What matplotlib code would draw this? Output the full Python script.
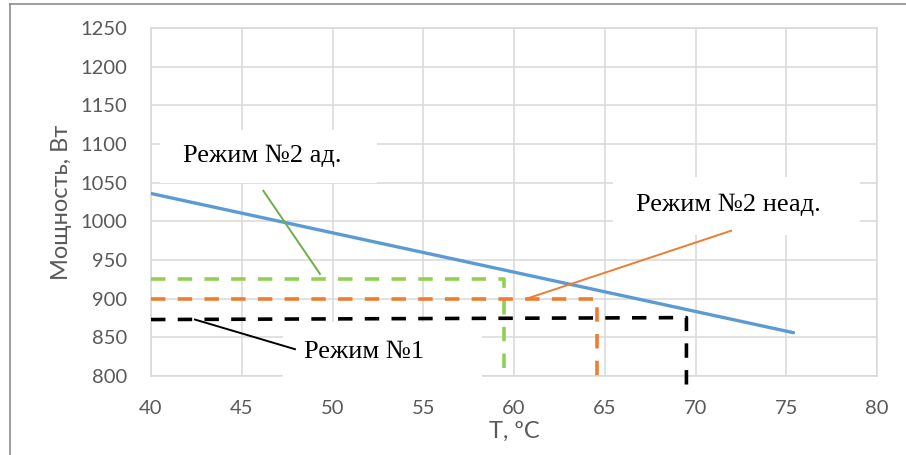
import matplotlib.pyplot as plt
from matplotlib.lines import Line2D
from matplotlib.patches import Rectangle

# мощность нагревателя от температуры
t_power = [40, 75.4]
p_power = [1036, 856]

# рабочие точки режимов (горизонталь + спуск к оси)
t_mode2_ad = [40, 59.45, 59.45]
p_mode2_ad = [925, 925, 800]
t_mode2_nead = [40, 64.55, 64.55]
p_mode2_nead = [900, 900, 789]
t_mode1 = [40, 69.5, 69.5]
p_mode1 = [873, 875.5, 786]

# выноски к подписям
lead_ad_t, lead_ad_p = [46.19, 49.31], [1039.5, 932]
lead_nead_t, lead_nead_p = [60.7, 71.96], [900, 987.8]
lead_1_t, lead_1_p = [42.42, 47.93], [873, 834.7]

xticks = list(range(40, 81, 5))
yticks = list(range(800, 1251, 50))

grid_c = "#d9d9d9"
tick_c = "#595959"

fig = plt.figure(figsize=(9.06, 4.55), dpi=100)
ax = fig.add_axes([151 / 906, 1 - 376 / 455, 726 / 906, 348 / 455])

ax.set_xlim(40, 80)
ax.set_ylim(800, 1250)
ax.set_xticks(xticks)
ax.set_yticks(yticks)
ax.grid(True, color=grid_c, linewidth=1.1)
ax.set_axisbelow(True)
for s in ax.spines.values():
    s.set_color(grid_c)
    s.set_linewidth(1.1)
ax.tick_params(length=0, pad=17, labelsize=14.5, labelcolor=tick_c)
for lab in ax.get_xticklabels() + ax.get_yticklabels():
    lab.set_fontfamily("Lato")

ax.set_xlabel("T, ºC", fontsize=17, color=tick_c, family="Lato", labelpad=3)
ax.set_ylabel("Мощность, Вт", fontsize=17, color=tick_c, family="Lato", labelpad=6)

# белые подложки под подписями
for (x0, x1, y0, y1) in [(40.5, 52.45, 1050, 1118.7),
                         (65.45, 79.06, 982.6, 1057.6),
                         (47.27, 58.24, 799, 870)]:
    ax.add_patch(Rectangle((x0, y0), x1 - x0, y1 - y0, facecolor="white",
                           edgecolor="none", zorder=2.6, clip_on=False))

ax.plot(t_power, p_power, color="#5b9bd5", linewidth=2.4, solid_capstyle="round", zorder=3)

dash = dict(linewidth=2.6, dashes=(4, 3.4), zorder=3, clip_on=False)
ax.plot(t_mode2_ad, p_mode2_ad, color="#92d050", **dash)
ax.plot(t_mode2_nead, p_mode2_nead, color="#ed7d31", **dash)
ax.plot(t_mode1, p_mode1, color="black", **dash)

ax.plot(lead_ad_t, lead_ad_p, color="#70ad47", linewidth=1.4, zorder=3)
ax.plot(lead_nead_t, lead_nead_p, color="#ed7d31", linewidth=1.4, zorder=3)
ax.plot(lead_1_t, lead_1_p, color="black", linewidth=1.4, zorder=3)

lbl = dict(fontsize=19, family="Liberation Serif", ha="center", va="center", zorder=4)
ax.text(46.12, 1084.8, "Режим №2 ад.", **lbl)
ax.text(71.79, 1021.4, "Режим №2 неад.", **lbl)
ax.text(51.74, 831.2, "Режим №1", **lbl)

# рамка области диаграммы (слева и сверху)
fig.add_artist(Line2D([9.5 / 906, 9.5 / 906], [0, 1 - 4 / 455], color="#8c8c8c", linewidth=1.2))
fig.add_artist(Line2D([9.5 / 906, 1], [1 - 4 / 455, 1 - 4 / 455], color="#8c8c8c", linewidth=1.2))

fig.savefig("out.png", dpi=100)
